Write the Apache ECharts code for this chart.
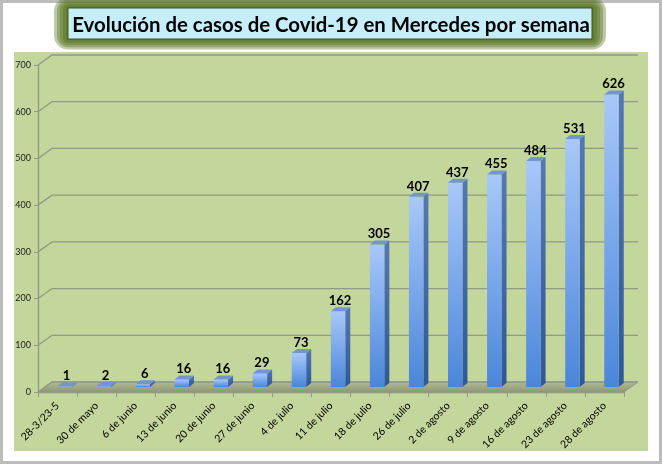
<!DOCTYPE html>
<html>
<head>
<meta charset="utf-8">
<script src="https://cdn.jsdelivr.net/npm/echarts@6/dist/echarts.min.js"></script>
<style>
html, body { margin: 0; padding: 0; background: #fff; }
#main { width: 662px; height: 465px; }
</style>
</head>
<body>
<div id="main"></div>
<script>
var semanas = ['28-3/23-5', '30 de mayo', '6 de junio', '13 de junio', '20 de junio', '27 de junio',
    '4 de julio', '11 de julio', '18 de julio', '26 de julio', '2 de agosto', '9 de agosto',
    '16 de agosto', '23 de agosto', '28 de agosto'];
var casos = [1, 2, 6, 16, 16, 29, 73, 162, 305, 407, 437, 455, 484, 531, 626];
var marcasY = [0, 100, 200, 300, 400, 500, 600, 700];

// profundidad de la caja 3D
var DX = 14, DY = -10;
var gris = '#8f9985';

var chart = {};

chart.renderPared = function (params, api) {
    var cs = params.coordSys;
    var v = api.value(1);
    var y = api.coord([0, v])[1];
    var x0 = cs.x, x1 = cs.x + cs.width;
    var hijos = [];
    if (v === 0) {
        hijos.push({
            type: 'polygon',
            shape: { points: [[x0, y], [x0 + DX, y + DY], [x1 + DX, y + DY], [x1, y]] },
            style: {
                fill: new echarts.graphic.LinearGradient(0, 0, 0, 1, [
                    { offset: 0, color: '#b4bc96' },
                    { offset: 1, color: '#8d9673' }
                ]),
                stroke: gris, lineWidth: 1
            }
        });
    }
    hijos.push({
        type: 'polyline',
        shape: { points: [[x0, y], [x0 + DX, y + DY], [x1 + DX, y + DY]] },
        style: { stroke: gris, lineWidth: 1.3, fill: null }
    });
    return { type: 'group', children: hijos };
};

chart.renderBarra = function (params, api) {
    var i = api.value(0);
    var base = api.coord([i, 0]);
    var tope = api.coord([i, api.value(1)]);
    var banda = api.size([1, 0])[0];
    var w = banda * 0.37;
    var cx = base[0] + banda * 0.18;
    var xl = cx - w / 2, xr = cx + w / 2;
    var yb = base[1] - 5, yt = tope[1] - 5;
    var sx = 5, sy = -4;
    return {
        type: 'group',
        children: [
            {
                type: 'polygon',
                shape: { points: [[xr, yt], [xr + sx, yt + sy], [xr + sx, yb + sy], [xr, yb]] },
                style: { fill: new echarts.graphic.LinearGradient(0, 0, 0, 1, [
                    { offset: 0, color: '#5578b4' },
                    { offset: 1, color: '#2e5897' }
                ]) }
            },
            {
                type: 'rect',
                shape: { x: xl, y: yt, width: w, height: Math.max(yb - yt, 0.5) },
                style: { fill: new echarts.graphic.LinearGradient(0, 0, 0, 1, [
                    { offset: 0, color: '#a8c8f8' },
                    { offset: 0.45, color: '#7eaaec' },
                    { offset: 1, color: '#4a86d8' }
                ]) }
            },
            {
                type: 'polygon',
                shape: { points: [[xl, yt], [xl + sx, yt + sy], [xr + sx, yt + sy], [xr, yt]] },
                style: { fill: '#7096d2' }
            },
            {
                type: 'text',
                style: {
                    text: String(api.value(1)),
                    x: cx + 2, y: yt - 4,
                    align: 'center', verticalAlign: 'bottom',
                    font: 'bold 13px Lato', fill: '#000'
                }
            }
        ]
    };
};

// resplandor verde alrededor del cuadro del título
chart.resplandor = function () {
    var caja = { x: 68, y: 8, width: 524, height: 31 };
    var capas = [];
    [14, 11, 8, 5, 2].forEach(function (d) {
        capas.push({
            type: 'rect', z: 3,
            shape: { x: caja.x - d, y: caja.y - d * 0.75, width: caja.width + 2 * d,
                     height: caja.height + d * 1.5, r: d },
            style: { fill: '#52711a', opacity: 0.38 }
        });
    });
    capas.push({
        type: 'rect', z: 4,
        shape: caja,
        style: { fill: '#c6eefa', stroke: '#42561a', lineWidth: 1 }
    });
    return capas;
};

chart.init = function () {
    var myChart = echarts.init(document.getElementById('main'));
    var option = {
        backgroundColor: '#fff',
        animation: false,
        title: {
            text: 'Evolución de casos de Covid-19 en Mercedes por semana',
            left: 'center',
            top: 10,
            textStyle: { fontFamily: 'Lato', fontWeight: 'bold', fontSize: 20.4, color: '#000' }
        },
        graphic: [
            { type: 'rect', z: -20, shape: { x: 1.5, y: 1.5, width: 659, height: 461 },
              style: { fill: '#fff', stroke: '#bcbcbc', lineWidth: 3 } },
            { type: 'rect', z: -15, shape: { x: 14, y: 52, width: 634, height: 399 },
              style: { fill: '#c3d69b' } }
        ].concat(chart.resplandor()),
        grid: { left: 38, right: 38, top: 65, bottom: 73 },
        xAxis: {
            type: 'category',
            data: semanas,
            axisLine: { show: true, lineStyle: { color: gris, width: 1.3 } },
            axisTick: { show: true, length: 5, lineStyle: { color: gris } },
            axisLabel: { rotate: 45, fontSize: 10.5, fontFamily: 'Lato', color: '#000', margin: 12, interval: 0 }
        },
        yAxis: {
            type: 'value',
            min: 0,
            max: 700,
            interval: 100,
            axisLine: { show: true, lineStyle: { color: gris, width: 1.3 } },
            axisTick: { show: true, length: 4, lineStyle: { color: gris } },
            axisLabel: { fontSize: 9, fontFamily: 'Lato', color: '#222', margin: 7 },
            splitLine: { show: false }
        },
        series: [
            {
                type: 'custom',
                name: 'pared',
                silent: true,
                z: 1,
                renderItem: chart.renderPared,
                data: marcasY.map(function (v) { return [0, v]; })
            },
            {
                type: 'custom',
                name: 'casos',
                z: 3,
                renderItem: chart.renderBarra,
                data: casos.map(function (v, i) { return [i, v]; })
            }
        ]
    };
    myChart.setOption(option);
};

chart.init();
</script>
</body>
</html>
